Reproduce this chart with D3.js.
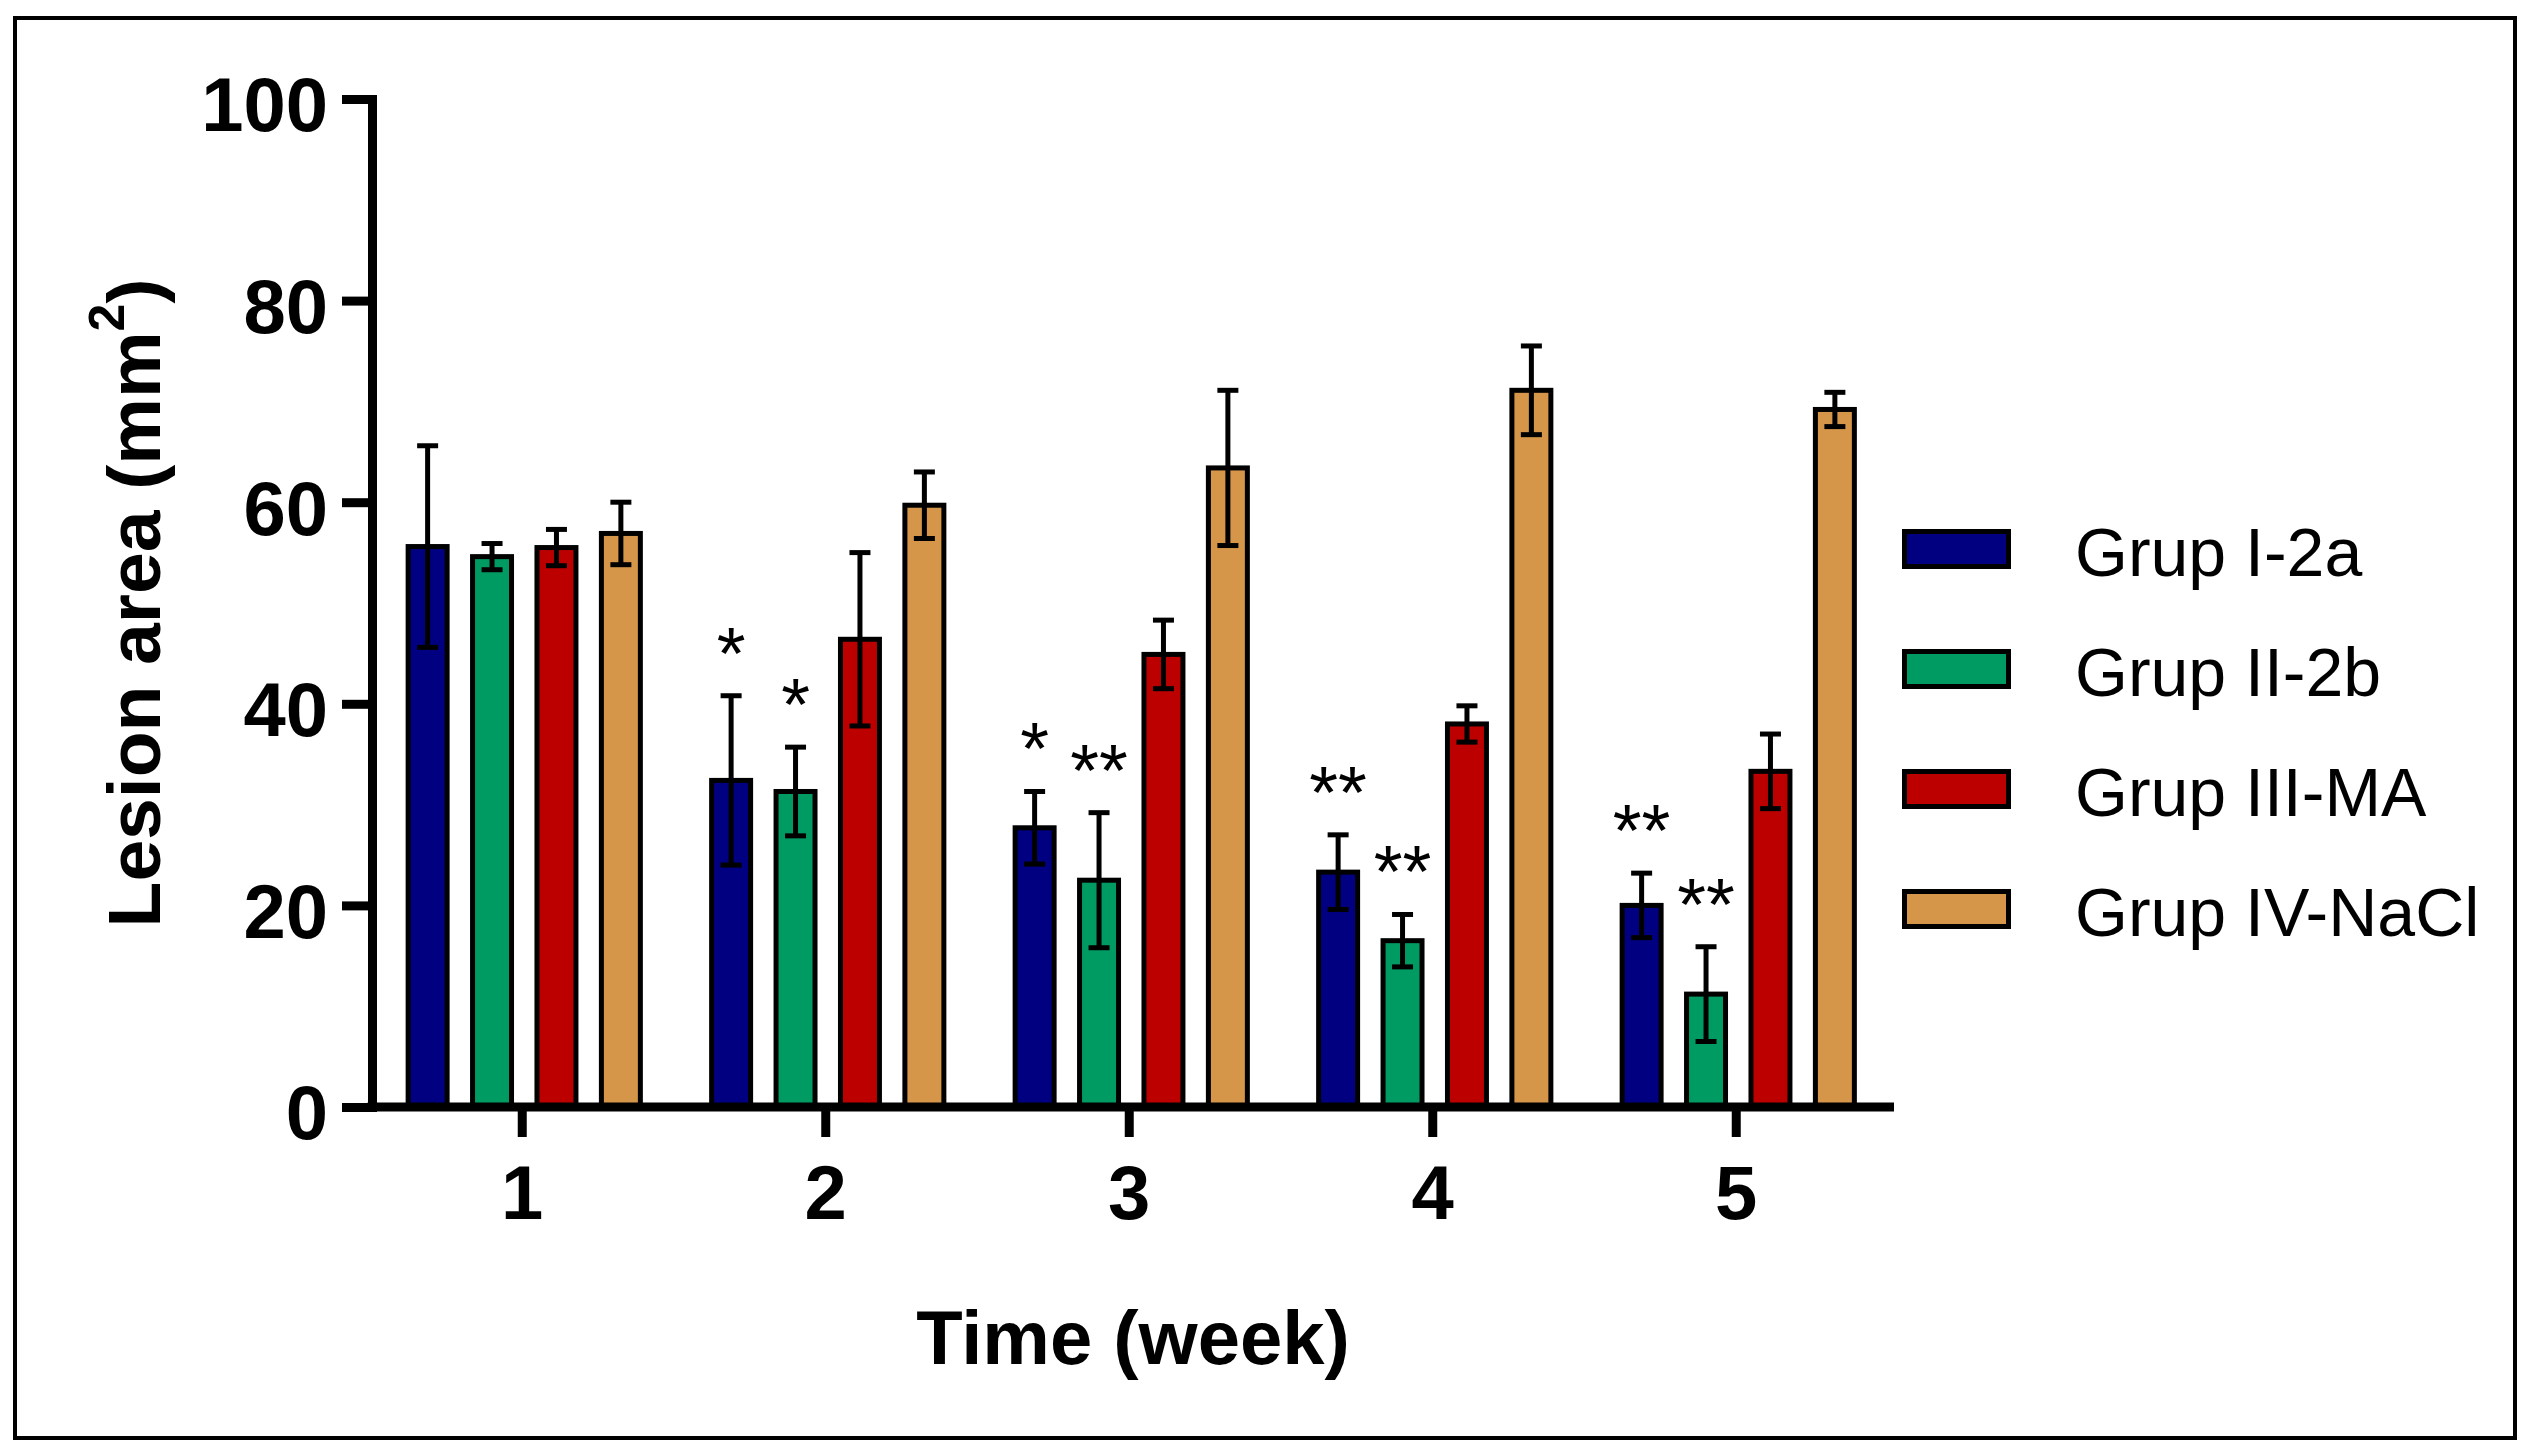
<html lang="en">
<head>
<meta charset="UTF-8">
<script src="https://d3js.org/d3.v7.min.js"></script>
<title>Lesion area</title>
<style>
  body { margin: 0; background: #fff; }
  text { font-family: "Liberation Sans", Arial, Helvetica, sans-serif; fill: #000; }
  .bold { font-weight: bold; }
</style>
<script>
// data
var weeks = ["1", "2", "3", "4", "5"];
var groups = ["Grup I-2a", "Grup II-2b", "Grup III-MA", "Grup IV-NaCl"];
var colors = ["#000080", "#009B62", "#BC0000", "#D6964A"];

var meanI   = [55.6, 32.4, 27.7, 23.3, 20.0];
var errI    = [10.0, 8.4, 3.6, 3.7, 3.2];
var meanII  = [54.6, 31.3, 22.5, 16.5, 11.2];
var errII   = [1.3, 4.4, 6.7, 2.6, 4.7];
var meanIII = [55.5, 46.4, 44.9, 38.0, 33.3];
var errIII  = [1.8, 8.6, 3.4, 1.8, 3.7];
var meanIV  = [56.9, 59.7, 63.4, 71.1, 69.2];
var errIV   = [3.1, 3.3, 7.7, 4.4, 1.7];

var sigI   = ["", "*", "*", "**", "**"];
var sigII  = ["", "*", "**", "**", "**"];
var sigIII = ["", "", "", "", ""];
var sigIV  = ["", "", "", "", ""];

var yTicks = [0, 20, 40, 60, 80, 100];

function main(){
  var svg = d3.select("svg");
  var means = [meanI, meanII, meanIII, meanIV],
      errs = [errI, errII, errIII, errIV],
      sigs = [sigI, sigII, sigIII, sigIV];

  var rows = [];
  weeks.forEach(function(w, i){
    groups.forEach(function(g, j){
      rows.push({week: w, group: g, color: colors[j], mean: means[j][i], err: errs[j][i], sig: sigs[j][i]});
    });
  });

  // outer frame
  svg.append("rect").attr("x", 15).attr("y", 18).attr("width", 2500).attr("height", 1420)
     .attr("fill", "none").attr("stroke", "#000").attr("stroke-width", 4);

  var axisX = 372, axisEnd = 1894;
  var xscale = d3.scaleBand().domain(weeks).range([370.5, 1888]).padding(0);
  var inner = d3.scaleBand().domain(groups).range([-127, 131]).paddingInner(0.395).paddingOuter(0.2);
  var yscale = d3.scaleLinear().domain([0, 100]).range([1107, 99]);

  function bx(d){ return xscale(d.week) + xscale.bandwidth() / 2 + inner(d.group); }
  function cx(d){ return bx(d) + inner.bandwidth() / 2; }

  // bars
  svg.selectAll(".bar").data(rows).enter().append("rect")
     .attr("class", "bar")
     .attr("x", bx)
     .attr("y", function(d){ return yscale(d.mean); })
     .attr("width", inner.bandwidth())
     .attr("height", function(d){ return yscale(0) - yscale(d.mean); })
     .attr("fill", function(d){ return d.color; })
     .attr("stroke", "#000").attr("stroke-width", 5);

  // error bars
  var eb = svg.selectAll(".err").data(rows).enter().append("g").attr("class", "err")
     .attr("stroke", "#000").attr("stroke-width", 5);
  eb.append("line")
     .attr("x1", cx).attr("x2", cx)
     .attr("y1", function(d){ return yscale(d.mean + d.err); })
     .attr("y2", function(d){ return yscale(d.mean - d.err); });
  eb.append("line")
     .attr("x1", function(d){ return cx(d) - 10.5; }).attr("x2", function(d){ return cx(d) + 10.5; })
     .attr("y1", function(d){ return yscale(d.mean + d.err); })
     .attr("y2", function(d){ return yscale(d.mean + d.err); });
  eb.append("line")
     .attr("x1", function(d){ return cx(d) - 10.5; }).attr("x2", function(d){ return cx(d) + 10.5; })
     .attr("y1", function(d){ return yscale(d.mean - d.err); })
     .attr("y2", function(d){ return yscale(d.mean - d.err); });

  // significance marks
  svg.selectAll(".sig").data(rows.filter(function(d){ return d.sig; })).enter().append("text")
     .attr("class", "sig")
     .attr("x", cx)
     .attr("y", function(d){ return yscale(d.mean + d.err) - 17; })
     .attr("text-anchor", "middle")
     .attr("font-size", 74)
     .text(function(d){ return d.sig; });

  // y axis
  var gy = svg.append("g").attr("transform", "translate(" + axisX + ",0)")
     .call(d3.axisLeft(yscale).tickValues(yTicks).tickSizeInner(30).tickSizeOuter(0).tickPadding(14));
  gy.selectAll("path, line").attr("stroke", "#000").attr("stroke-width", 9).attr("stroke-linecap", "square");
  gy.selectAll(".tick line").attr("stroke-linecap", "butt");
  gy.selectAll("text").attr("class", "bold").attr("font-size", 76).attr("dy", "0.42em");
  gy.attr("font-family", null);

  // x axis
  var gx = svg.append("g").attr("transform", "translate(0," + yscale(0) + ")")
     .call(d3.axisBottom(xscale).tickSizeInner(30).tickSizeOuter(0).tickPadding(28));
  gx.select(".domain").attr("d", "M" + (axisX - 4.5) + ",0H" + axisEnd);
  gx.selectAll("path, line").attr("stroke", "#000").attr("stroke-width", 9);
  gx.selectAll("text").attr("class", "bold").attr("font-size", 76);
  gx.attr("font-family", null);

  // axis titles
  svg.append("text").attr("class", "bold").attr("font-size", 76)
     .attr("x", (axisX + axisEnd) / 2).attr("y", 1364).attr("text-anchor", "middle")
     .text("Time (week)");

  var yt = svg.append("text").attr("class", "bold").attr("font-size", 75)
     .attr("text-anchor", "middle")
     .attr("transform", "translate(160,603) rotate(-90)");
  yt.append("tspan").text("Lesion area (mm");
  yt.append("tspan").attr("font-size", 50).attr("dy", -36).text("2");
  yt.append("tspan").attr("dy", 36).text(")");

  // legend
  var lg = svg.selectAll(".leg").data(groups).enter().append("g").attr("class", "leg")
     .attr("transform", function(d, i){ return "translate(1904.5," + (549 + i * 120) + ")"; });
  lg.append("rect").attr("x", 0).attr("y", -17.5).attr("width", 104).attr("height", 35)
     .attr("fill", function(d, i){ return colors[i]; })
     .attr("stroke", "#000").attr("stroke-width", 5);
  lg.append("text").attr("x", 170.5).attr("y", 27).attr("font-size", 68)
     .text(function(d){ return d; });
}
</script>
</head>
<body onload="main();">
<svg width="2532" height="1454"></svg>
</body>
</html>
